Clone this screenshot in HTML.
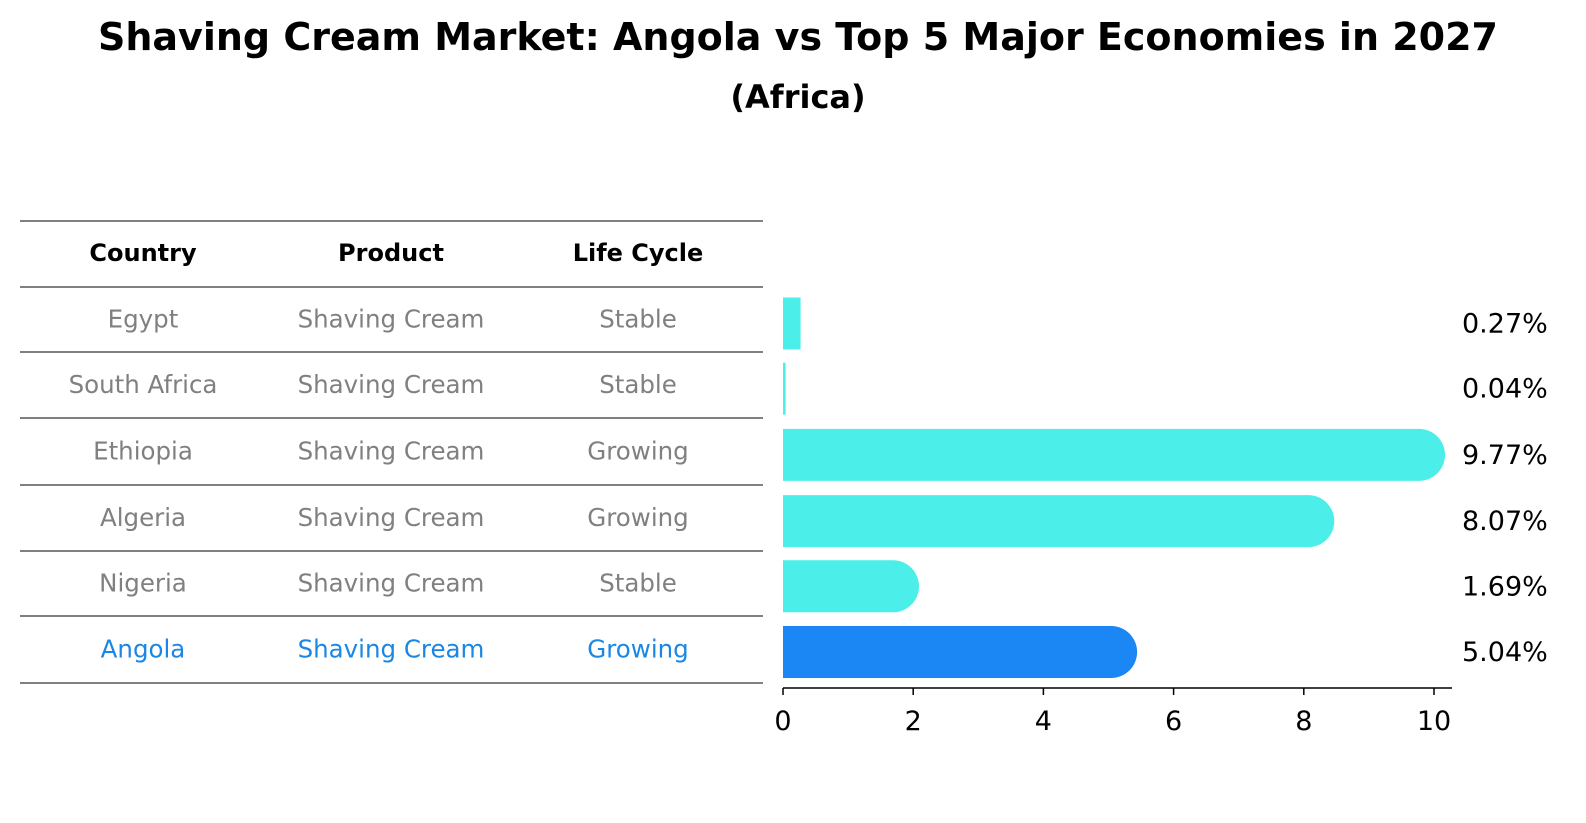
<!DOCTYPE html>
<html><head><meta charset="utf-8"><style>
body{margin:0;background:#fff;font-family:"Liberation Sans","DejaVu Sans",sans-serif;}
#wrap{position:relative;width:1586px;height:823px;overflow:hidden;background:#fff}
</style></head><body>
<div id="wrap">
<svg id="svg" width="1586" height="823" font-family="DejaVu Sans, Liberation Sans, sans-serif">
<text x="798" y="50" text-anchor="middle" font-size="38" font-weight="bold">Shaving Cream Market: Angola vs Top 5 Major Economies in 2027</text>
<text x="798" y="108" text-anchor="middle" font-size="32" font-weight="bold">(Africa)</text>
<g id="table"></g>
<g id="bars"></g>
</svg>
</div>
<script>
const countries=["Egypt","South Africa","Ethiopia","Algeria","Nigeria","Angola"];
const products=["Shaving Cream","Shaving Cream","Shaving Cream","Shaving Cream","Shaving Cream","Shaving Cream"];
const lifeCycles=["Stable","Stable","Growing","Growing","Stable","Growing"];
const values=[0.27,0.04,9.77,8.07,1.69,5.04];
const valueLabels=["0.27%","0.04%","9.77%","8.07%","1.69%","5.04%"];
const xTicks=[0,2,4,6,8,10];
const highlight="Angola";

const NS="http://www.w3.org/2000/svg";
function mk(tag,attrs,parent){const e=document.createElementNS(NS,tag);for(const k in attrs)e.setAttribute(k,attrs[k]);parent.appendChild(e);return e;}
const tbl=document.getElementById('table');
const bars=document.getElementById('bars');
const lineYs=[221,287,352,418,485,551,616,683];
const colX=[143,391,638];
const hdr=["Country","Product","Life Cycle"];
for(const y of lineYs){
  const l=mk('line',{x1:20,x2:763,y1:y,y2:y,stroke:'#000','stroke-width':1},tbl);
  
  
}
hdr.forEach((h,i)=>{
  const t=mk('text',{x:colX[i],y:261,'text-anchor':'middle','font-size':24,'font-weight':'bold'},tbl);
  t.textContent=h;
  
  
});
const rowC=i=>(lineYs[i+1]+lineYs[i+2])/2;
countries.forEach((c,i)=>{
  const col=c===highlight?'#1a87e6':'#808080';
  [c,products[i],lifeCycles[i]].forEach((v,j)=>{
    const t=mk('text',{x:colX[j],y:rowC(i)+8,'text-anchor':'middle','font-size':24.5,fill:col},tbl);
    t.textContent=v;
    
    
  });
});
const x0=783,x1=1434,xMax=10;
const xs=v=>x0+(v/xMax)*(x1-x0);
const barH=52;
values.forEach((v,i)=>{
  const cy=rowC(i)+4-(i*0.3);
  const top=cy-barH/2,r=barH/2;
  const xe=xs(v);
  const col=countries[i]===highlight?'#1a87f5':'#4beee9';
  let p;
  if(xe-x0>r){
    p=mk('path',{d:`M${x0},${top}H${xe}A${r},${r} 0 0 1 ${xe},${top+barH}H${x0}Z`,fill:col},bars);
  }else{
    p=mk('rect',{x:x0,y:top,width:Math.max(xe-x0,1.5),height:barH,fill:col},bars);
  }
  
  
  const t=mk('text',{x:1462,y:cy+9,'font-size':27},bars);
  t.textContent=valueLabels[i];
  
  
});
const ax=mk('line',{x1:x0,x2:1452,y1:688,y2:688,stroke:'#000','stroke-width':1.5},bars);


xTicks.forEach(tv=>{
  const tk=mk('line',{x1:xs(tv),x2:xs(tv),y1:688,y2:695,stroke:'#000','stroke-width':1.5},bars);
  
  
  const t=mk('text',{x:xs(tv),y:730,'text-anchor':'middle','font-size':27},bars);
  t.textContent=tv;
  
  
});
</script>
</body></html>
